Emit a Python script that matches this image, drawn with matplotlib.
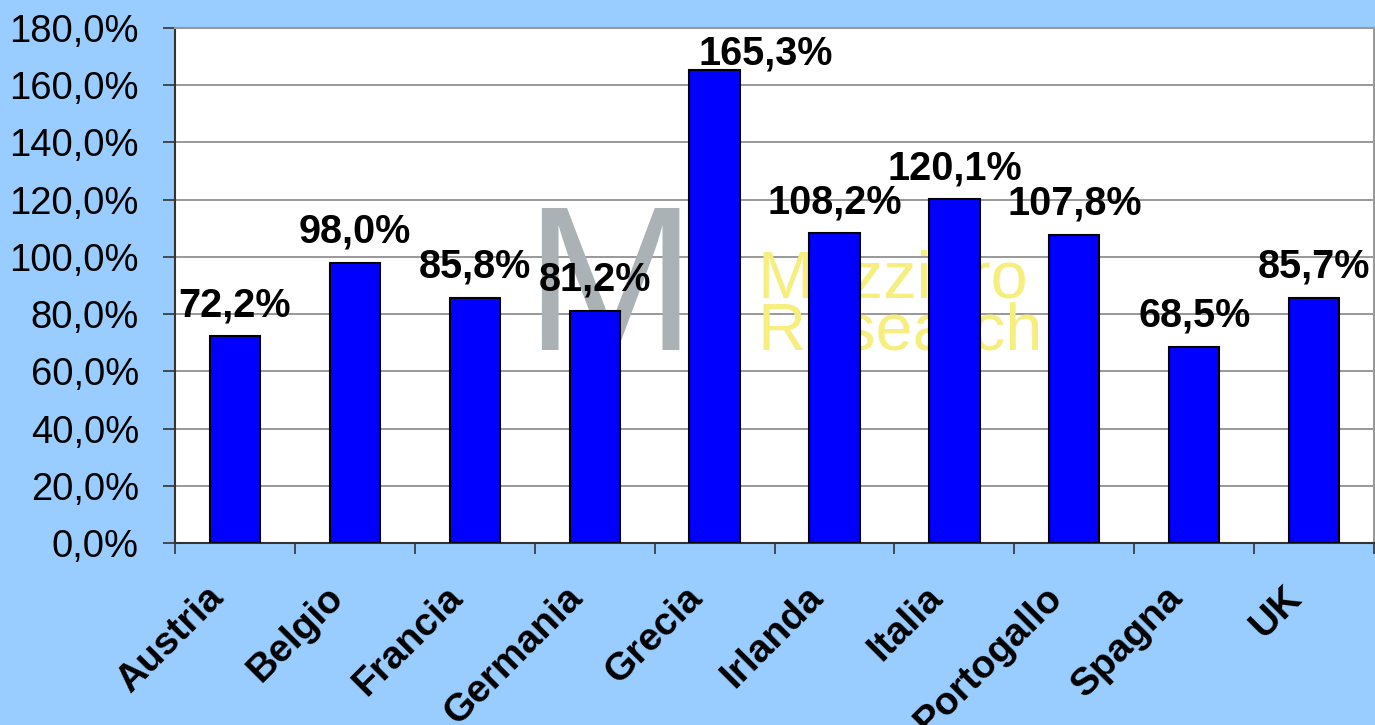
"""
debito pubblico / PIL, paesi area euro
"""
import numpy as np
import matplotlib
matplotlib.use('Agg')
import matplotlib.pyplot as plt
from matplotlib.ticker import FuncFormatter, FixedLocator
from matplotlib.transforms import ScaledTranslation

paesi = ['Austria', 'Belgio', 'Francia', 'Germania', 'Grecia',
         'Irlanda', 'Italia', 'Portogallo', 'Spagna', 'UK']
valori = [72.2, 98.0, 85.8, 81.2, 165.3, 108.2, 120.1, 107.8, 68.5, 85.7]

y_ticks = [0, 20, 40, 60, 80, 100, 120, 140, 160, 180]


def pct(v, _=None):
    return f'{v:.1f}%'.replace('.', ',')


def main():
    plt.rcParams['font.family'] = ['Liberation Sans', 'DejaVu Sans']

    fig = plt.figure(figsize=(13.75, 7.25), dpi=100, facecolor='#99ccff')
    ax = fig.add_axes([0.1273, 0.251, 0.872, 0.7104])
    ax.set_facecolor('white')

    x = np.arange(len(paesi))
    ax.bar(x, valori, width=0.42, color='#0000ff', edgecolor='black',
           linewidth=1.5, zorder=3)

    # etichette valori (la Grecia spostata a destra, come nell'originale)
    for xi, v in zip(x, valori):
        dx = 0.425 if v > 160 else 0
        ax.text(xi + dx, min(v + 7, 167.1), pct(v), ha='center',
                va='baseline', fontsize=28.5, fontweight='bold', zorder=4)

    # watermark
    ax.text(0.291, 0.375, 'M', transform=ax.transAxes, fontsize=148,
            color='#aab2b6', ha='left', va='baseline', zorder=1)
    ax.text(0.486, 0.476, 'Mazziero', transform=ax.transAxes,
            fontsize=48, color='#f6ee7e', ha='left', va='baseline', zorder=1)
    ax.text(0.486, 0.375, 'Research', transform=ax.transAxes,
            fontsize=48, color='#f6ee7e', ha='left', va='baseline', zorder=1)

    ax.set_ylim(0, 180)
    ax.set_xlim(-0.5, len(paesi) - 0.5)
    ax.yaxis.set_major_locator(FixedLocator(y_ticks))
    ax.yaxis.set_major_formatter(FuncFormatter(pct))
    ax.grid(axis='y', color='#888888', linewidth=1.2, zorder=0)
    ax.set_axisbelow(True)

    ax.xaxis.set_major_locator(FixedLocator(np.arange(len(paesi) + 1) - 0.5))
    ax.xaxis.set_major_formatter(FuncFormatter(lambda v, p: ''))
    ax.xaxis.set_minor_locator(FixedLocator(x))
    ax.set_xticklabels(paesi, minor=True, rotation=45, ha='right',
                       rotation_mode='anchor', fontsize=28, fontweight='bold')
    ax.tick_params(axis='x', which='major', direction='out', length=8,
                   width=1.2, color='#333333')
    ax.tick_params(axis='x', which='minor', length=0, pad=26)
    ax.tick_params(axis='y', direction='out', length=9, width=1.2,
                   color='#333333', pad=17, labelsize=27.5)
    shift = ScaledTranslation(-0.3, 0, fig.dpi_scale_trans)
    for lbl in ax.get_xticklabels(minor=True):
        lbl.set_transform(lbl.get_transform() + shift)

    for s in ('top', 'right'):
        ax.spines[s].set_color('#999999')
        ax.spines[s].set_linewidth(1.5)
    for s in ('left', 'bottom'):
        ax.spines[s].set_color('#333333')
        ax.spines[s].set_linewidth(1.5)

    fig.savefig('out.png', dpi=100, facecolor=fig.get_facecolor())


if __name__ == "__main__":
    main()
